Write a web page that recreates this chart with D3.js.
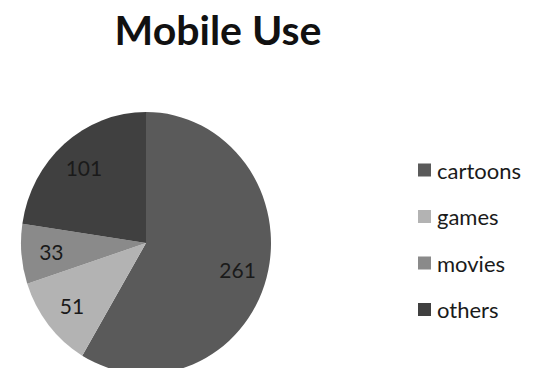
<!DOCTYPE html>
<html>
<head>
<meta charset="utf-8">
<script src="https://cdn.jsdelivr.net/npm/d3@7"></script>
<style>
  html, body { margin: 0; padding: 0; background: #fff; }
  svg { display: block; }
</style>
</head>
<body>
<svg id="chart" width="536" height="368"></svg>
<script>
// Mobile use by category
const categories = ["cartoons", "games", "movies", "others"];
const values = [261, 51, 33, 101];
const colors = ["#5a5a5a", "#b3b3b3", "#8a8a8a", "#404040"];

const svg = d3.select("#chart");
const cx = 146, cy = 243, r = 125, stretchY = 1.048;

svg.append("text")
  .attr("x", 218).attr("y", 45)
  .attr("text-anchor", "middle")
  .attr("font-family", "Lato, 'Open Sans', sans-serif")
  .attr("font-weight", "bold")
  .attr("font-size", 41)
  .attr("fill", "#111")
  .text("Mobile Use");

const data = categories.map((c, i) => ({ category: c, value: values[i], color: colors[i] }));
const pie = d3.pie().value(d => d.value).sort(null);
const arcs = pie(data);

const arc = d3.arc().innerRadius(0).outerRadius(r);
const labelArc = d3.arc().innerRadius(r * 0.76).outerRadius(r * 0.76);

const g = svg.append("g")
  .attr("transform", `translate(${cx},${cy}) scale(1,${stretchY})`);

g.selectAll("path")
  .data(arcs)
  .join("path")
  .attr("d", arc)
  .attr("fill", d => d.data.color);

svg.append("g")
  .selectAll("text")
  .data(arcs)
  .join("text")
  .attr("x", d => cx + labelArc.centroid(d)[0])
  .attr("y", d => cy + labelArc.centroid(d)[1] * stretchY)
  .attr("text-anchor", "middle")
  .attr("dominant-baseline", "central")
  .attr("font-family", "Lato, 'Open Sans', sans-serif")
  .attr("font-size", 21)
  .attr("fill", "#1a1a1a")
  .text(d => d.data.value);

// Legend
const legendY = d3.scalePoint().domain(categories).range([170, 309.5]);
const legend = svg.append("g")
  .selectAll("g")
  .data(data)
  .join("g")
  .attr("transform", d => `translate(418,${legendY(d.category)})`);

legend.append("rect")
  .attr("x", 0).attr("y", -6.5)
  .attr("width", 13).attr("height", 13)
  .attr("fill", d => d.color);

legend.append("text")
  .attr("x", 19).attr("y", 0)
  .attr("dominant-baseline", "central")
  .attr("font-family", "Lato, 'Open Sans', sans-serif")
  .attr("font-size", 22)
  .attr("fill", "#1a1a1a")
  .text(d => d.category);
</script>
</body>
</html>
